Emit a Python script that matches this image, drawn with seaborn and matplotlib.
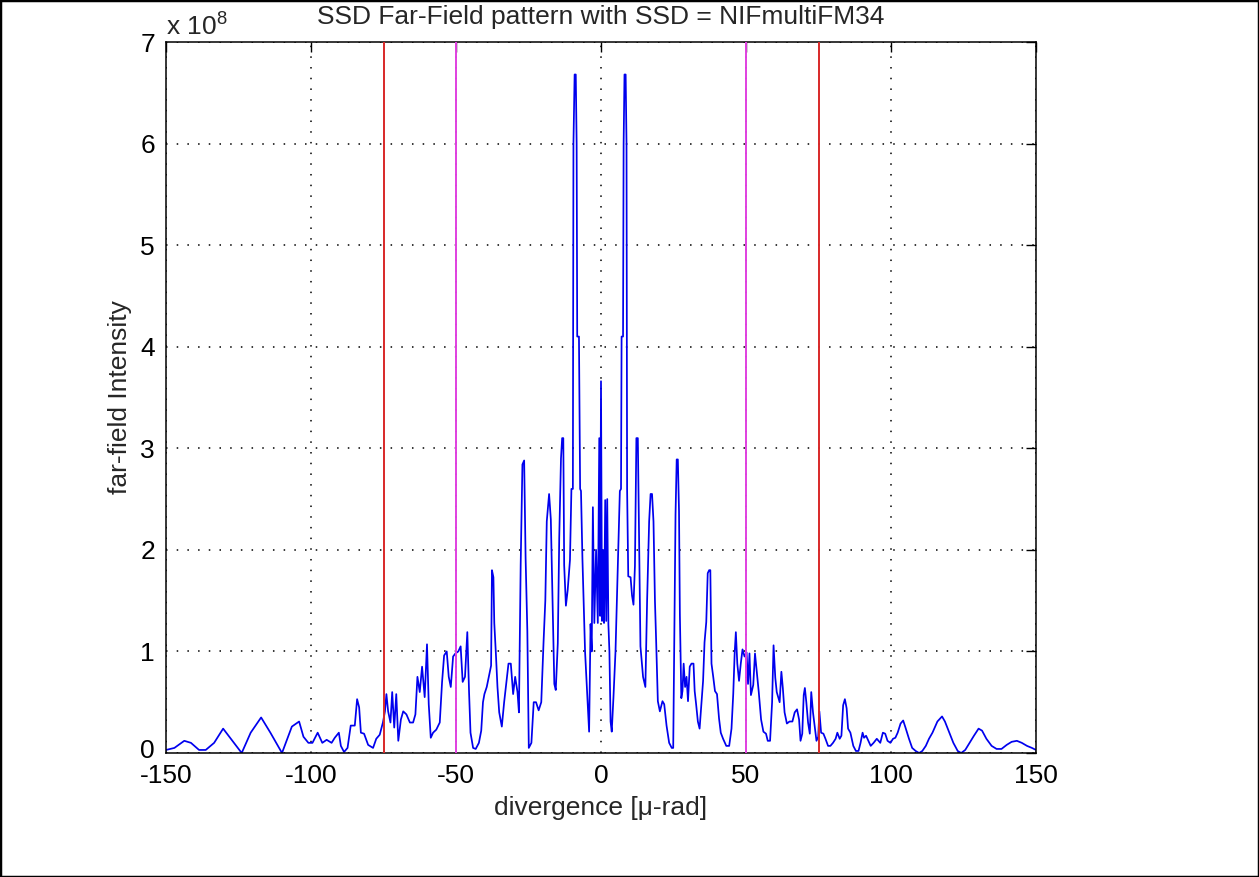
import numpy as np
import pandas as pd
import matplotlib
matplotlib.use("Agg")
import matplotlib.pyplot as plt
import matplotlib.transforms as mtransforms
import seaborn as sns
from matplotlib.patches import Rectangle

# ---- data (intensity in units of 1e8) ----
x_left = [-150, -147.1, -143.7, -141.4, -138.6, -136.3, -133.4, -130.3, -127.1, -123.9,
          -120.8, -117.2, -114.0, -110.0, -106.6, -104.1, -102.6, -100.9, -99.5, -97.7,
          -96.1, -94.6, -92.9, -91.8, -90.4, -89.7, -88.6, -87.4, -86.3, -84.9,
          -84.1, -83.4, -82.8, -81.7, -80.3, -78.6, -77.5, -76.3, -75.2, -74.5,
          -74.0, -73.4, -72.6, -72.0, -71.3, -70.6, -69.9, -69.0, -68.2, -67.1,
          -65.9, -64.8, -64.0, -63.3, -62.5, -61.7, -60.8, -60.0, -59.4, -58.7,
          -57.9, -56.8, -55.6, -54.8, -54.1, -53.2, -52.5, -51.8, -51.0, -50.2,
          -49.2, -48.4, -47.7, -46.9, -46.1, -45.5, -45.0, -44.1, -43.2, -42.1,
          -41.3, -40.7, -40.2, -39.4, -38.7, -37.9, -37.6, -37.1, -36.8, -36.2,
          -35.7, -35.1, -34.2, -33.4, -32.6, -31.9, -31.1, -30.3, -29.6, -28.8,
          -28.3, -27.7, -27.1, -26.5, -26.0, -25.4, -24.9, -24.0, -23.2, -22.4,
          -21.5, -20.6, -19.8, -19.2, -18.7, -17.9, -17.3, -16.7, -16.1, -15.6,
          -14.9, -14.4, -13.8, -13.4, -13.0, -12.7, -12.1, -11.5, -10.7, -10.2,
          -9.7, -9.5, -9.1, -8.7, -8.4, -8.2, -7.6, -7.2, -6.9, -6.4,
          -5.5, -4.7, -4.1, -3.6, -3.2, -2.8, -2.3, -1.7, -1.1, -0.6,
          -0.3, 0.0]
y_left = [0.03, 0.05, 0.12, 0.10, 0.03, 0.03, 0.10, 0.24, 0.12, 0.00,
          0.20, 0.35, 0.20, 0.00, 0.26, 0.31, 0.16, 0.10, 0.10, 0.20,
          0.10, 0.13, 0.10, 0.15, 0.20, 0.07, 0.01, 0.05, 0.27, 0.27,
          0.53, 0.45, 0.20, 0.19, 0.08, 0.05, 0.14, 0.18, 0.30, 0.41,
          0.58, 0.41, 0.30, 0.60, 0.25, 0.58, 0.12, 0.33, 0.41, 0.38,
          0.30, 0.30, 0.38, 0.75, 0.60, 0.85, 0.55, 1.07, 0.48, 0.15,
          0.20, 0.23, 0.30, 0.70, 0.96, 1.00, 0.75, 0.65, 0.95, 0.98,
          1.00, 1.05, 0.70, 0.75, 1.19, 0.60, 0.20, 0.05, 0.04, 0.10,
          0.22, 0.50, 0.58, 0.65, 0.75, 0.86, 1.80, 1.73, 1.28, 0.95,
          0.65, 0.40, 0.26, 0.50, 0.70, 0.88, 0.88, 0.58, 0.75, 0.60,
          0.40, 1.85, 2.84, 2.88, 1.92, 1.20, 0.05, 0.10, 0.50, 0.50,
          0.42, 0.50, 1.10, 1.50, 2.28, 2.55, 2.30, 1.50, 0.68, 0.62,
          1.08, 2.12, 2.90, 3.10, 3.10, 1.85, 1.45, 1.60, 1.90, 2.60,
          2.60, 6.00, 6.68, 6.68, 6.00, 4.10, 4.10, 2.60, 2.58, 1.91,
          1.00, 0.55, 0.21, 1.27, 1.00, 2.42, 1.28, 2.00, 1.28, 3.10,
          1.35, 3.66]

x_right = [0.35, 0.7, 1.05, 1.45, 1.8, 2.15, 2.55, 2.9, 3.3, 3.7,
           4.3, 5.0, 5.9, 6.5, 6.9, 7.1, 7.6, 7.8, 8.1, 8.5,
           8.8, 9.0, 9.4, 10.2, 10.7, 11.2, 11.7, 12.2, 12.7, 13.1,
           13.6, 14.5, 15.3, 15.9, 16.6, 17.1, 17.6, 18.1, 18.6, 19.0,
           19.6, 20.3, 21.2, 21.8, 22.6, 23.5, 24.4, 24.9, 25.3, 25.7,
           26.1, 26.5, 26.9, 27.2, 27.7, 28.1, 28.5, 29.0, 29.5, 30.0,
           30.6, 31.2, 31.9, 32.3, 32.8, 33.4, 34.0, 34.6, 35.2, 35.7,
           36.3, 36.8, 37.3, 37.7, 38.1, 38.7, 39.3, 40.0, 40.7, 41.3,
           42.1, 43.2, 44.2, 45.0, 45.6, 46.1, 46.5, 47.0, 47.6, 48.2,
           48.8, 49.5, 50.2, 50.7, 51.2, 51.7, 52.5, 53.1, 53.7, 54.4,
           55.2, 56.0, 56.9, 57.5, 58.3, 59.0, 59.5, 60.1, 60.6, 61.6,
           62.2, 62.7, 63.3, 64.1, 65.0, 66.0, 66.8, 67.6, 68.3, 68.8,
           69.4, 69.9, 70.3, 70.8, 71.4, 72.0, 72.5, 73.1, 73.7, 74.3,
           74.9, 75.3, 75.9, 76.7, 77.4, 78.3, 79.1, 80.0, 80.9, 81.5,
           82.3, 82.9, 83.5, 84.1, 84.7, 85.2, 86.0, 87.0, 87.9, 88.8,
           89.5, 90.2, 90.7, 91.4, 92.2, 93.0, 94.0, 95.1, 96.3, 97.2,
           98.0, 98.8, 99.8, 100.7, 101.5, 102.3, 103.3, 104.2, 105.0, 106.2,
           107.3, 108.5, 109.7, 110.8, 112.0, 113.1, 114.3, 116.0, 117.6, 118.6,
           120.1, 121.5, 123.0, 124.2, 125.6, 127.1, 128.6, 130.2, 131.4, 132.9,
           134.7, 136.4, 138.1, 139.9, 141.6, 143.4, 145.1, 146.9, 148.6, 150.0]
y_right = [1.30, 2.00, 1.28, 2.49, 1.30, 2.50, 1.27, 1.00, 0.31, 0.21,
           0.55, 1.00, 1.94, 2.58, 2.60, 4.10, 4.10, 6.00, 6.68, 6.68,
           6.00, 2.60, 1.74, 1.73, 1.55, 1.46, 1.84, 3.10, 3.10, 2.20,
           1.05, 0.75, 0.65, 1.50, 2.28, 2.55, 2.55, 2.28, 1.50, 1.12,
           0.51, 0.41, 0.51, 0.48, 0.27, 0.10, 0.05, 0.05, 1.19, 2.35,
           2.89, 2.89, 2.38, 1.36, 0.54, 0.61, 0.88, 0.65, 0.75, 0.51,
           0.85, 0.88, 0.88, 0.61, 0.48, 0.31, 0.24, 0.48, 0.71, 1.09,
           1.29, 1.77, 1.80, 1.80, 0.88, 0.75, 0.61, 0.58, 0.34, 0.20,
           0.14, 0.07, 0.07, 0.24, 0.58, 0.99, 1.19, 0.88, 0.71, 0.88,
           1.02, 0.95, 0.99, 0.68, 0.98, 0.57, 0.67, 0.98, 0.80, 0.60,
           0.33, 0.21, 0.19, 0.12, 0.12, 0.50, 1.06, 0.74, 0.60, 0.50,
           0.80, 0.64, 0.40, 0.29, 0.31, 0.31, 0.40, 0.43, 0.33, 0.12,
           0.19, 0.57, 0.64, 0.50, 0.30, 0.19, 0.60, 0.40, 0.26, 0.12,
           0.16, 0.41, 0.20, 0.19, 0.14, 0.07, 0.07, 0.10, 0.14, 0.20,
           0.14, 0.17, 0.47, 0.53, 0.44, 0.24, 0.20, 0.07, 0.02, 0.02,
           0.10, 0.20, 0.15, 0.17, 0.12, 0.07, 0.10, 0.14, 0.10, 0.20,
           0.19, 0.12, 0.10, 0.14, 0.15, 0.20, 0.29, 0.32, 0.25, 0.14,
           0.05, 0.02, 0.00, 0.02, 0.07, 0.14, 0.20, 0.31, 0.36, 0.31,
           0.20, 0.10, 0.02, 0.00, 0.03, 0.10, 0.17, 0.24, 0.22, 0.14,
           0.07, 0.04, 0.04, 0.08, 0.11, 0.12, 0.10, 0.07, 0.05, 0.03]

x_ticks = [-150, -100, -50, 0, 50, 100, 150]
y_ticks = [0, 1, 2, 3, 4, 5, 6, 7]
red_lines = [-75, 75]
magenta_lines = [-50, 50]
title_text = "SSD Far-Field pattern with SSD = NIFmultiFM34"
xlabel_text = "divergence [\u03bc-rad]"
ylabel_text = "far-field Intensity"

df = pd.DataFrame({"divergence": x_left + x_right, "intensity": y_left + y_right})

# ---- style ----
sns.set_style("white")
plt.rcParams["font.family"] = ["Liberation Sans", "DejaVu Sans"]
plt.rcParams["mathtext.fontset"] = "custom"
plt.rcParams["mathtext.rm"] = "Liberation Sans"
FS = 19

fig = plt.figure(figsize=(12.59, 8.77), dpi=100)
ax = fig.add_axes([166 / 1259, 1 - 753 / 877, (1036 - 166) / 1259, (753 - 42) / 877])

sns.lineplot(data=df, x="divergence", y="intensity", ax=ax, color="#0000ee",
             linewidth=1.25, estimator=None, sort=False)

for xv in red_lines:
    ax.axvline(xv, color="#d82828", linewidth=1.4, zorder=3)
for xv in magenta_lines:
    ax.axvline(xv, color="#e040e0", linewidth=1.4, zorder=3)

ax.set_xlim(-150, 150)
ax.set_ylim(0, 7)
ax.set_xticks(x_ticks)
ax.set_yticks(y_ticks)
ax.set_xticklabels([str(t) for t in x_ticks])
ax.set_yticklabels([str(t) for t in y_ticks])
ax.grid(True, color="black", linestyle=(0, (1, 6)), linewidth=1.1)
ax.set_axisbelow(True)
ax.tick_params(direction="in", length=7, width=1.0, top=True, right=True,
               labelsize=FS, colors="black")
ax.tick_params(axis="x", pad=8)
ax.tick_params(axis="y", pad=8)
for sp in ax.spines.values():
    sp.set_visible(True)
    sp.set_color("black")
    sp.set_linewidth(1.1)

# lift the bottom "0" label a few pixels so it does not collide with "-150"
zero_lbl = ax.get_yticklabels()[0]
zero_lbl.set_transform(zero_lbl.get_transform() +
                       mtransforms.ScaledTranslation(0, 4 / 100, fig.dpi_scale_trans))

ax.set_title(title_text, fontsize=FS, pad=13)
ax.set_xlabel(xlabel_text, fontsize=FS, labelpad=6)
ax.set_ylabel(ylabel_text, fontsize=FS, labelpad=6)
ax.text(0.0, 1.004, r"x 10$^{8}$", transform=ax.transAxes, fontsize=FS,
        ha="left", va="bottom")

fig.patches.append(Rectangle((0, 0), 1, 1, transform=fig.transFigure, fill=False,
                             edgecolor="black", linewidth=2.5))

fig.savefig("out.png", dpi=100, facecolor="white")
